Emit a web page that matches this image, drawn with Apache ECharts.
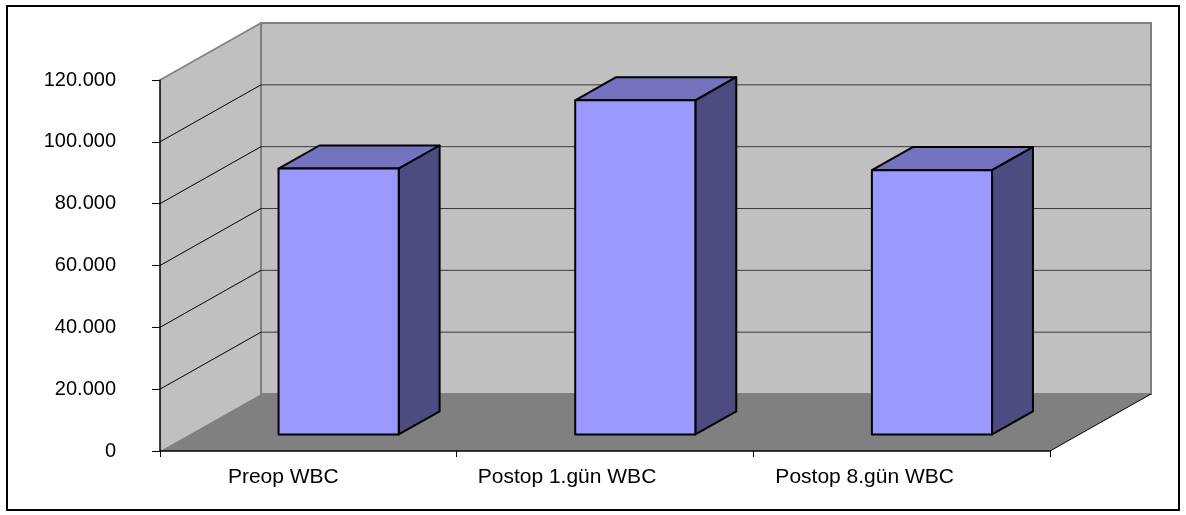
<!DOCTYPE html>
<html>
<head>
<meta charset="utf-8">
<script src="https://cdn.jsdelivr.net/npm/echarts@6/dist/echarts.min.js"></script>
<style>
html, body { margin: 0; padding: 0; background: #ffffff; }
#chart { width: 1186px; height: 515px; }
</style>
</head>
<body>
<div id="chart"></div>
<script>
// White blood cell counts before and after the operation
const categories = ['Preop WBC', 'Postop 1.gün WBC', 'Postop 8.gün WBC'];
const wbcValues = [86000, 108100, 85500];
const yTicks = [0, 20000, 40000, 60000, 80000, 100000, 120000];

// Oblique depth of floor and walls (pixels)
const DEPTH_X = 101, DEPTH_Y = -57;
// Bar block front/back planes as a share of the full depth, and bar width share of a category
const BAR_FRONT = 0.29, BAR_BACK = 0.695;
const BAR_WIDTH = 0.405;

const FONT = '"Liberation Sans", Arial, sans-serif';

function thousands(v) {
  return String(v).replace(/\B(?=(\d{3})+(?!\d))/g, '.');
}

// Side wall, back wall, floor and their gridlines
function renderWalls(params, api) {
  const cs = params.coordSys;
  const x0 = cs.x, x1 = cs.x + cs.width;
  const yOf = v => api.coord([0, v])[1];
  const yb = yOf(yTicks[0]);
  const yt = yOf(yTicks[yTicks.length - 1]);
  const ch = [];
  ch.push({ type: 'polygon', shape: { points: [[x0, yt], [x0 + DEPTH_X, yt + DEPTH_Y], [x0 + DEPTH_X, yb + DEPTH_Y], [x0, yb]] },
            style: { fill: '#c0c0c0' } });
  ch.push({ type: 'rect', shape: { x: x0 + DEPTH_X, y: yt + DEPTH_Y, width: x1 - x0, height: yb - yt },
            style: { fill: '#c0c0c0', stroke: '#808080', lineWidth: 2 } });
  yTicks.slice(1, -1).forEach(v => {
    const y = yOf(v);
    ch.push({ type: 'line', shape: { x1: x0 + DEPTH_X, y1: y + DEPTH_Y, x2: x1 + DEPTH_X, y2: y + DEPTH_Y },
              style: { stroke: '#3a3a3a', lineWidth: 1 } });
    ch.push({ type: 'line', shape: { x1: x0, y1: y, x2: x0 + DEPTH_X, y2: y + DEPTH_Y },
              style: { stroke: '#000000', lineWidth: 1 } });
  });
  ch.push({ type: 'line', shape: { x1: x0, y1: yt, x2: x0 + DEPTH_X, y2: yt + DEPTH_Y },
            style: { stroke: '#808080', lineWidth: 1.5 } });
  ch.push({ type: 'polygon', shape: { points: [[x0, yb], [x0 + DEPTH_X, yb + DEPTH_Y], [x1 + DEPTH_X, yb + DEPTH_Y], [x1, yb]] },
            style: { fill: '#808080' } });
  ch.push({ type: 'line', shape: { x1: x1, y1: yb, x2: x1 + DEPTH_X, y2: yb + DEPTH_Y },
            style: { stroke: '#000000', lineWidth: 1 } });
  return { type: 'group', children: ch };
}

// One 3D block per category
function renderBar(params, api) {
  const i = api.value(0), v = api.value(1);
  const base = api.coord([i, 0]);
  const top = api.coord([i, v]);
  const w = api.size([1, 0])[0] * BAR_WIDTH;
  const fx = DEPTH_X * BAR_FRONT + 1, fy = DEPTH_Y * BAR_FRONT;
  const bx = DEPTH_X * BAR_BACK + 1, by = DEPTH_Y * BAR_BACK;
  const L = base[0] - w / 2, R = base[0] + w / 2;
  const yB = base[1], yT = top[1];
  const edge = { stroke: '#000000', lineWidth: 2, lineJoin: 'round' };
  return {
    type: 'group',
    children: [
      { type: 'polygon', shape: { points: [[L + fx, yT + fy], [L + bx, yT + by], [R + bx, yT + by], [R + fx, yT + fy]] },
        style: Object.assign({ fill: '#7373bf' }, edge) },
      { type: 'polygon', shape: { points: [[R + fx, yT + fy], [R + bx, yT + by], [R + bx, yB + by], [R + fx, yB + fy]] },
        style: Object.assign({ fill: '#4c4c80' }, edge) },
      { type: 'rect', shape: { x: L + fx, y: yT + fy, width: w, height: yB - yT },
        style: Object.assign({ fill: '#9999ff' }, edge) }
    ]
  };
}

const chart = echarts.init(document.getElementById('chart'), null, { renderer: 'canvas' });

chart.setOption({
  animation: false,
  backgroundColor: '#ffffff',
  graphic: [{
    type: 'rect', shape: { x: 7, y: 6, width: 1172, height: 504 },
    style: { fill: null, stroke: '#000000', lineWidth: 2 }, z: 100
  }],
  grid: { left: 160, right: 136, top: 80, bottom: 64 },
  xAxis: {
    type: 'category',
    data: [
      { value: categories[0], textStyle: { padding: [0, 50, 0, 0] } },
      { value: categories[1], textStyle: { padding: [0, 76, 0, 0] } },
      { value: categories[2], textStyle: { padding: [0, 74, 0, 0] } }
    ],
    boundaryGap: true,
    z: 10,
    axisLine: { lineStyle: { color: '#000000', width: 1.5 } },
    axisTick: { show: true, length: 6, lineStyle: { color: '#000000' } },
    axisLabel: { color: '#000000', fontSize: 21, fontFamily: FONT, margin: 16 },
    splitLine: { show: false }
  },
  yAxis: {
    type: 'value',
    min: 0, max: 120000, interval: 20000,
    z: 10,
    axisLine: { show: true, lineStyle: { color: '#000000', width: 1.5 } },
    axisTick: { show: true, length: 8, lineStyle: { color: '#000000' } },
    axisLabel: { color: '#000000', fontSize: 20, fontFamily: FONT, margin: 44, formatter: thousands },
    splitLine: { show: false }
  },
  series: [
    {
      type: 'custom',
      z: 1,
      silent: true,
      renderItem: renderWalls,
      data: [[0, 0]],
      encode: { x: 0, y: 1 }
    },
    {
      type: 'custom',
      z: 3,
      renderItem: renderBar,
      data: wbcValues.map((v, i) => [i, v]),
      encode: { x: 0, y: 1 }
    }
  ]
});
</script>
</body>
</html>
